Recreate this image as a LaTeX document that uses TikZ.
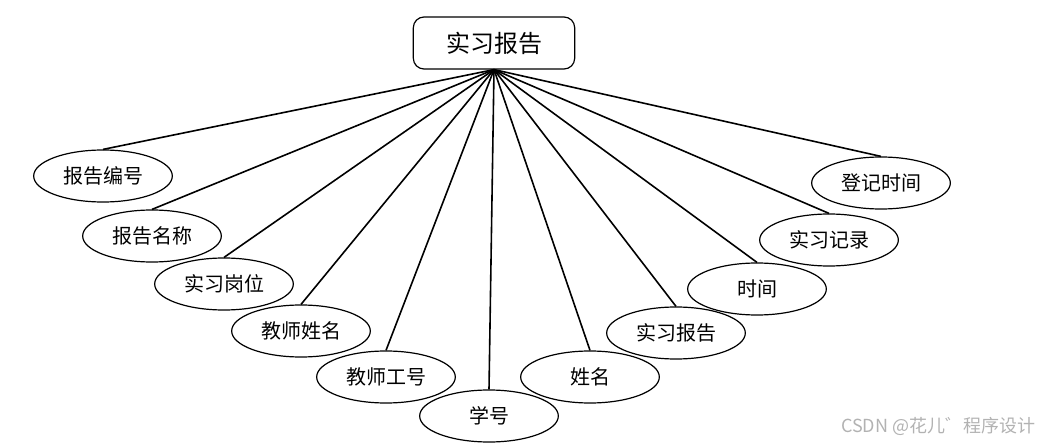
\documentclass[tikz,border=0pt]{standalone}
\usepackage{fontspec}
\setmainfont{Noto Sans CJK SC}
\usetikzlibrary{shapes.geometric}
\begin{document}
\begin{tikzpicture}[x=0.75pt, y=-0.75pt,
                   entity/.style={draw, line width=0.9pt, rounded corners=8pt, minimum width=121pt, minimum height=39pt, font=\fontsize{18pt}{18pt}\selectfont, inner sep=0pt},
                   attr/.style={draw, ellipse, line width=0.9pt, minimum width=104pt, minimum height=39pt, font=\fontsize{15pt}{15pt}\selectfont, inner sep=0pt},
                   link/.style={line width=1.2pt}]
	\useasboundingbox (0,0) rectangle (1045,445);
	\node[entity] (report) at (494,43) {实习报告};
	\begin{scope}[every node/.style={attr}]
	\node (rid) at (103,176) {报告编号};
	\node (rname) at (152,236) {报告名称};
	\node (post) at (224,284) {实习岗位};
	\node (tname) at (301,331) {教师姓名};
	\node (tid) at (386,377) {教师工号};
	\node (sid) at (489,416) {学号};
	\node (sname) at (590,377) {姓名};
	\node (rep) at (676,333) {实习报告};
	\node (time) at (757,289) {时间};
	\node (rec) at (829,240) {实习记录};
	\node (reg) at (881,183) {登记时间};
	\end{scope}
	\foreach \a in {rid, rname, post, tname, tid, sid, sname, rep, time, rec, reg}
		\draw[link] (report.south) -- (\a.north);
	\node[text=black!30, font=\fontsize{13.5pt}{13.5pt}\selectfont, anchor=east] (mark) at (1040,426) {CSDN @花儿゛程序设计};
\end{tikzpicture}
\end{document}
